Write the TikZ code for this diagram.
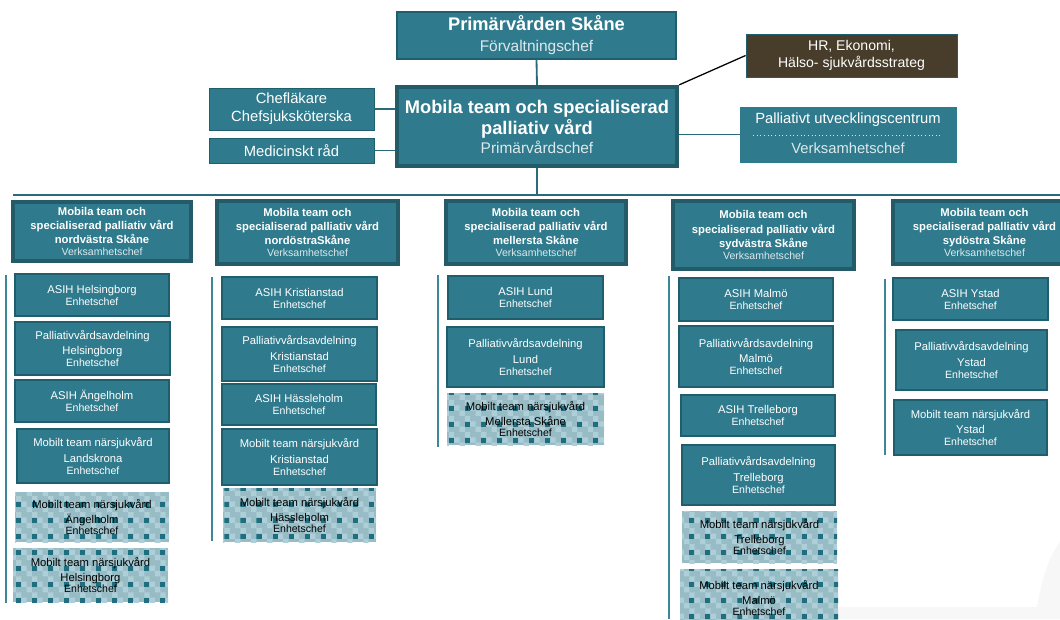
\documentclass[tikz,border=0pt]{standalone}
\usepackage{fontspec}
\setmainfont{Liberation Sans}
\usetikzlibrary{patterns}

\definecolor{tealbox}{HTML}{2F7B8D}
\definecolor{tealline}{HTML}{1F5E6D}
\definecolor{tealdark}{HTML}{245B69}
\definecolor{tealbus}{HTML}{2B6A7A}
\definecolor{tealside}{HTML}{3C8798}
\definecolor{hrbrown}{HTML}{483D2A}
\definecolor{chkbase}{HTML}{97BCC5}
\definecolor{chklight}{HTML}{AECFD7}
\definecolor{chkdark}{HTML}{1E6E80}
\definecolor{subtext}{HTML}{DCE9EC}

\pgfdeclarepatterninherentlycolored{checks}
{\pgfpoint{-0.1pt}{-0.1pt}}{\pgfpoint{11.5pt}{11.5pt}}
{\pgfpoint{11.4pt}{11.4pt}}
{
	\pgfsetfillcolor{chklight}
	\pgfpathrectangle{\pgfpoint{3.8pt}{0pt}}{\pgfpoint{3.8pt}{3.8pt}}
	\pgfpathrectangle{\pgfpoint{0pt}{3.8pt}}{\pgfpoint{3.8pt}{3.8pt}}
	\pgfpathrectangle{\pgfpoint{7.6pt}{7.6pt}}{\pgfpoint{3.8pt}{3.8pt}}
	\pgfusepath{fill}
	\pgfsetfillcolor{chkdark}
	\pgfpathrectangle{\pgfpointorigin}{\pgfpoint{3.6pt}{3.6pt}}
	\pgfusepath{fill}
}

\newcommand\enh{\\[-2.5pt]{\fontsize{7.5}{8}\selectfont Enhetschef}}
\newcommand\vch{\\[-1.5pt]{\mdseries\color{subtext}\fontsize{7.5}{8}\selectfont Verksamhetschef}}

\begin{document}
\begin{tikzpicture}[x=0.025cm,y=-0.025cm,
	cell/.style n args={4}{minimum width={(#3-#1)*0.025cm},minimum height={(#4-#2)*0.025cm},
		at={({(#1+#3)/2},{(#2+#4)/2})}},
	unit/.style={fill=tealbox,draw=tealline,line width=0.8pt,inner sep=0pt,
		align=center,text=white,font=\fontsize{8}{11}\selectfont},
	mobil/.style={fill=chkbase,postaction={pattern=checks},inner sep=0pt,
		align=center,text=black,font=\fontsize{8}{10.7}\selectfont},
	head/.style={fill=tealbox,draw=tealdark,line width=2.2pt,inner sep=0pt,
		align=center,text=white,font=\bfseries\fontsize{8}{10}\selectfont},
	sidebox/.style={fill=tealbox,draw=tealline,line width=0.6pt,inner sep=0pt,
		align=center,text=white,font=\fontsize{10.5}{13}\selectfont},
	link/.style={draw=tealbus,line width=1.3pt},
	side/.style={draw=tealside,line width=1.3pt}]

\clip (0,0) rectangle (1060,619);
\fill[white] (0,0) rectangle (1060,619);
\fill[gray!6] (838,607) -- (1037,607) .. controls (1042,580) and (1048,558) .. (1060,542)
	-- (1060,619) -- (838,619) -- cycle;

% top levels
\node[fill=tealbox,draw=tealline,line width=0.8pt,inner sep=0pt,align=center,text=white,
	font=\bfseries\fontsize{13}{15}\selectfont,cell={397}{12}{676}{59}] (pvs)
	{Primärvården Skåne\\{\mdseries\color{subtext}\fontsize{11}{13}\selectfont Förvaltningschef}};
\node[fill=tealbox,draw=tealdark,line width=3pt,inner sep=0pt,align=center,text=white,
	font=\bfseries\fontsize{13}{15}\selectfont,cell={397}{87}{677}{166}] (mtp)
	{Mobila team och specialiserad\\palliativ vård\\[-1.5pt]{\mdseries\color{subtext}\fontsize{11}{13}\selectfont Primärvårdschef}};
\node[fill=hrbrown,draw=tealline,line width=0.6pt,inner sep=0pt,align=center,text=white,
	font=\fontsize{10}{12}\selectfont,cell={746}{34}{957}{77}] (hr)
	{HR, Ekonomi,\\Hälso- sjukvårdsstrateg};
\node[sidebox,cell={209}{88}{374}{130}] (cl) {Chefläkare\\Chefsjuksköterska};
\node[sidebox,cell={209}{138}{374}{163}] (mr) {Medicinskt råd};
\node[sidebox,draw=tealbox,cell={740}{107}{956}{162}] (puc) {};
\node[text=white,font=\fontsize{10.5}{13}\selectfont] (puct) at (848,120) {Palliativt utvecklingscentrum};
\node[text=subtext,font=\fontsize{10.5}{13}\selectfont] (pucv) at (848,148) {Verksamhetschef};
\draw[white!80!tealbox,dotted,line width=0.6pt] (753,135) -- (943,135);

\draw[link] (pvs.south) -- (mtp.north);
\draw[link,line width=0.9pt] (cl.east) -- (cl.east -| mtp.west);
\draw[link,line width=0.9pt] (mr.east) -- (mr.east -| mtp.west);
\draw[link,line width=0.9pt] (puc.west) -- (puc.west -| mtp.east);
\draw[black,line width=0.9pt] (mtp.north east) -- (hr.west);

\coordinate (busw) at (13,195);
\coordinate (buse) at (1060,195);
\draw[link,line width=2pt] (busw) -- (buse);
\draw[link] (mtp.south) -- (mtp.south |- busw);

% verksamheter
\node[head,cell={13}{202}{191}{261}] (nv) {Mobila team och\\specialiserad palliativ vård\\nordvästra Skåne\vch};
\node[head,cell={217}{201}{398}{264}] (no) {Mobila team och\\specialiserad palliativ vård\\nordöstraSkåne\vch};
\node[head,cell={446}{201}{626}{264}] (me) {Mobila team och\\specialiserad palliativ vård\\mellersta Skåne\vch};
\node[head,cell={673}{201}{854}{269}] (sv) {Mobila team och\\specialiserad palliativ vård\\sydvästra Skåne\vch};
\node[head,cell={893}{201}{1076}{264}] (so) {Mobila team och\\specialiserad palliativ vård\\sydöstra Skåne\vch};

\foreach \x/\a/\b in {6/275/603, 212/277/541, 438/275/447, 669/276/619, 885/279/455}
	\draw[side] (\x,\a) -- (\x,\b);

% nordvästra
\node[unit,cell={15}{274}{169}{316}] (nv1) {ASIH Helsingborg\enh};
\node[unit,cell={15}{322}{170}{375}] (nv2) {Palliativvårdsavdelning\\Helsingborg\enh};
\node[unit,cell={15}{380}{169}{422}] (nv3) {ASIH Ängelholm\enh};
\node[unit,cell={17}{429}{169}{483}] (nv4) {Mobilt team närsjukvård\\Landskrona\enh};
\node[mobil,cell={15}{492}{169}{542}] (nv5) {Mobilt team närsjukvård\\Ängelholm\enh};
\node[mobil,cell={13}{548}{168}{602}] (nv6) {Mobilt team närsjukvård\\Helsingborg\enh};

% nordöstra
\node[unit,cell={222}{277}{377}{319}] (no1) {ASIH Kristianstad\enh};
\node[unit,cell={222}{327}{377}{381}] (no2) {Palliativvårdsavdelning\\Kristianstad\enh};
\node[unit,cell={222}{384}{376}{425}] (no3) {ASIH Hässleholm\enh};
\node[unit,cell={222}{429}{377}{485}] (no4) {Mobilt team närsjukvård\\Kristianstad\enh};
\node[mobil,cell={223}{488}{376}{542}] (no5) {Mobilt team närsjukvård\\Hässleholm\enh};

% mellersta
\node[unit,cell={448}{276}{603}{319}] (me1) {ASIH Lund\enh};
\node[unit,cell={447}{327}{604}{387}] (me2) {Palliativvårdsavdelning\\Lund\enh};
\node[mobil,cell={447}{393}{604}{445}] (me3) {Mobilt team närsjukvård\\Mellersta Skåne\enh};

% sydvästra
\node[unit,cell={679}{278}{833}{321}] (sv1) {ASIH Malmö\enh};
\node[unit,cell={679}{326}{833}{387}] (sv2) {Palliativvårdsavdelning\\Malmö\enh};
\node[unit,cell={681}{395}{835}{436}] (sv3) {ASIH Trelleborg\enh};
\node[unit,cell={682}{445}{835}{505}] (sv4) {Palliativvårdsavdelning\\Trelleborg\enh};
\node[mobil,cell={682}{511}{837}{563}] (sv5) {Mobilt team närsjukvård\\Trelleborg\enh};
\node[mobil,cell={680}{569}{838}{627}] (sv6) {Mobilt team närsjukvård\\Malmö\enh};

% sydöstra
\node[unit,cell={893}{278}{1048}{320}] (so1) {ASIH Ystad\enh};
\node[unit,cell={896}{330}{1047}{390}] (so2) {Palliativvårdsavdelning\\Ystad\enh};
\node[unit,cell={894}{400}{1047}{455}] (so3) {Mobilt team närsjukvård\\Ystad\enh};

\end{tikzpicture}
\end{document}
